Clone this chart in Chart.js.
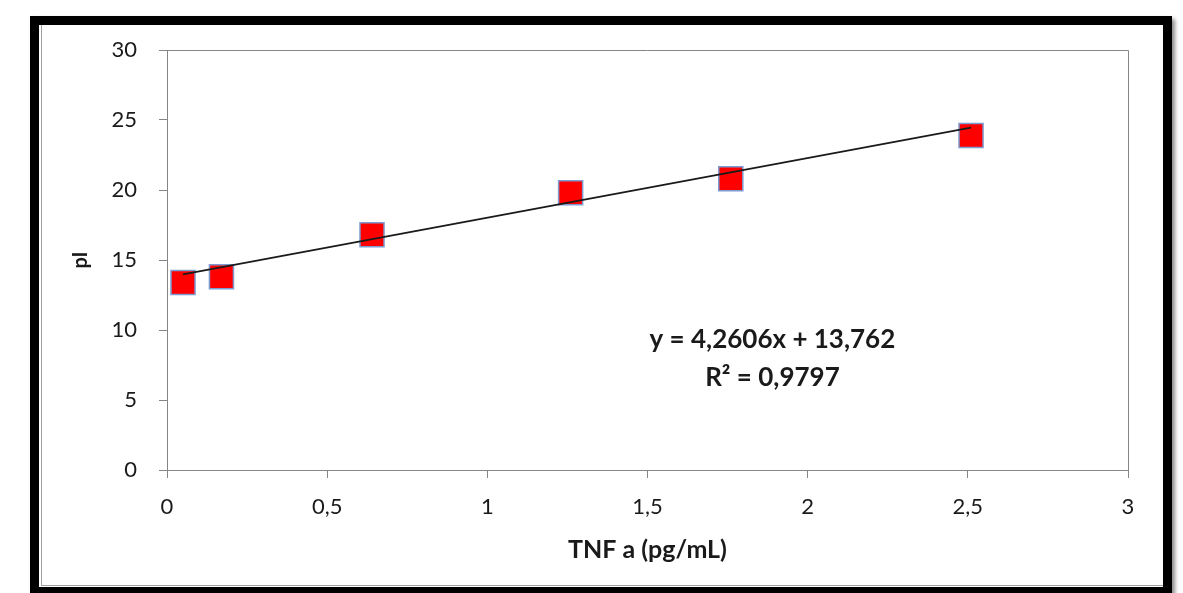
<!DOCTYPE html>
<html>
<head>
<meta charset="utf-8">
<script src="https://cdn.jsdelivr.net/npm/chart.js@4.4.1/dist/chart.umd.min.js"></script>
<style>
  html, body { margin: 0; padding: 0; background: #fff; }
  body { width: 1183px; height: 593px; position: relative; overflow: hidden; }
  .frame {
    position: absolute; left: 30px; top: 16px; width: 1124px; height: 562px;
    border: 9px solid #000; box-shadow: 3px 3px 4px rgba(0,0,0,0.45);
  }
  .frame .inner {
    position: absolute; left: 2px; top: 0; right: 0; bottom: 1px;
    border-left: 1px solid #a0a0a0; border-bottom: 1px solid #a0a0a0;
  }
  #pIChart { position: absolute; left: 0; top: 0; }
</style>
</head>
<body>
<div class="frame"><div class="inner"></div></div>
<canvas id="pIChart" width="1183" height="593"></canvas>
<script>
// TNF a concentration (pg/mL) vs measured pI
const tnfValues = [0.05, 0.17, 0.64, 1.26, 1.76, 2.51];
const piValues = [13.4, 13.8, 16.8, 19.8, 20.8, 23.9];
const trendSlope = 4.2606;
const trendIntercept = 13.762;
const xTickLabels = ['0', '0,5', '1', '1,5', '2', '2,5', '3'];
const yTickLabels = ['0', '5', '10', '15', '20', '25', '30'];
const equationLines = ['y = 4,2606x + 13,762', 'R² = 0,9797'];

const FONT = 'Lato, "Open Sans", sans-serif';
const AXIS = '#868686';
const TEXT = '#1a1a1a';

const points = tnfValues.map((x, i) => ({ x, y: piValues[i] }));
const xMin = Math.min(...tnfValues);
const xMax = Math.max(...tnfValues);
const trend = [xMin, xMax].map((x) => ({ x, y: trendSlope * x + trendIntercept }));

const plotBorder = {
  id: 'plotBorder',
  beforeDatasetsDraw(chart) {
    const { ctx, chartArea: a } = chart;
    ctx.save();
    ctx.strokeStyle = AXIS;
    ctx.lineWidth = 1;
    ctx.beginPath();
    ctx.moveTo(a.left, a.top + 0.5);
    ctx.lineTo(a.right + 0.5, a.top + 0.5);
    ctx.lineTo(a.right + 0.5, a.bottom);
    ctx.stroke();
    ctx.restore();
  }
};

const equationLabel = {
  id: 'equationLabel',
  afterDatasetsDraw(chart, args, opts) {
    const { ctx, scales } = chart;
    ctx.save();
    ctx.font = 'bold 26px ' + FONT;
    ctx.fillStyle = TEXT;
    ctx.textAlign = 'center';
    ctx.textBaseline = 'middle';
    const cx = scales.x.getPixelForValue(opts.x);
    opts.y.forEach((yv, i) => {
      ctx.fillText(equationLines[i], cx, scales.y.getPixelForValue(yv));
    });
    ctx.restore();
  }
};

new Chart(document.getElementById('pIChart'), {
  type: 'scatter',
  data: {
    datasets: [
      {
        label: 'Trend',
        data: trend,
        showLine: true,
        borderColor: '#1a1a1a',
        borderWidth: 1.6,
        pointRadius: 0,
        order: 0
      },
      {
        label: 'pI',
        data: points,
        pointStyle: 'rect',
        pointRadius: 17,
        pointHoverRadius: 17,
        backgroundColor: '#ff0000',
        borderColor: '#7d9bd0',
        borderWidth: 1.5,
        order: 1
      }
    ]
  },
  options: {
    responsive: false,
    animation: false,
    layout: { padding: { left: 60, top: 50, right: 55, bottom: 20 } },
    plugins: {
      legend: { display: false },
      tooltip: { enabled: false },
      equationLabel: { x: 1.89, y: [9.32, 6.6] }
    },
    scales: {
      x: {
        type: 'linear',
        min: 0,
        max: 3,
        ticks: {
          stepSize: 0.5,
          padding: 16,
          color: TEXT,
          font: { family: FONT, size: 22 },
          callback: (v, i) => xTickLabels[i]
        },
        grid: { drawOnChartArea: false, tickLength: 8, color: AXIS },
        border: { color: AXIS },
        title: {
          display: true,
          text: 'TNF a (pg/mL)',
          color: TEXT,
          font: { family: FONT, size: 25, weight: 'bold' },
          padding: { top: 0, bottom: 8 }
        },
        afterFit: (s) => { s.height = 103; }
      },
      y: {
        min: 0,
        max: 30,
        ticks: {
          stepSize: 5,
          padding: 22,
          color: TEXT,
          font: { family: FONT, size: 22 },
          callback: (v, i) => yTickLabels[i]
        },
        grid: { drawOnChartArea: false, tickLength: 8, color: AXIS },
        border: { color: AXIS },
        title: {
          display: true,
          text: 'pI',
          color: TEXT,
          font: { family: FONT, size: 20, weight: 'bold' },
          padding: { top: 9, bottom: 0 }
        },
        afterFit: (s) => { s.width = 107; }
      }
    }
  },
  plugins: [plotBorder, equationLabel]
});
</script>
</body>
</html>
